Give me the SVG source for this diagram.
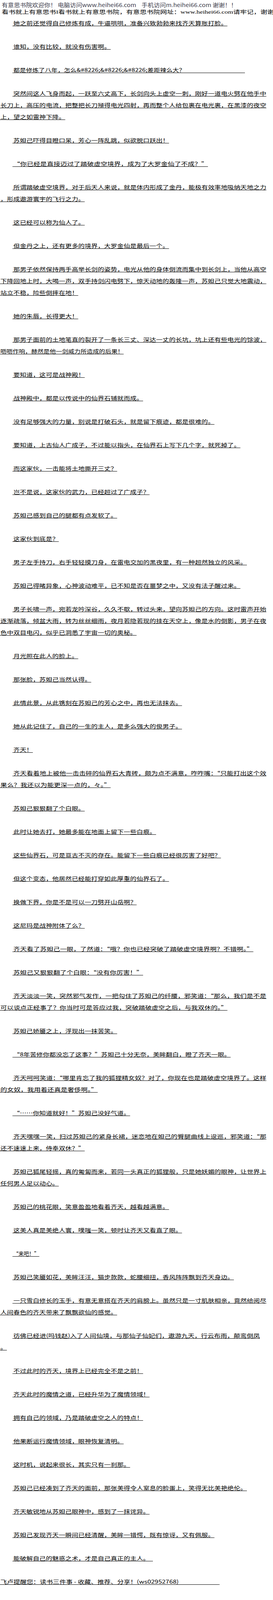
<svg xmlns="http://www.w3.org/2000/svg" width="700" height="4377" viewBox="0 0 700 4377">
<style>
.b{font-family:"Noto Sans CJK SC","Liberation Serif",sans-serif;font-size:13px;fill:#000}
.h1{font-family:"Noto Sans CJK SC","Liberation Sans",sans-serif;font-size:13.5px;fill:#3a3a4a}
.h2{font-family:"Liberation Serif","Noto Sans CJK SC",serif;font-size:13px;fill:#000}
.ft{font-family:"Noto Sans CJK SC","Liberation Sans",sans-serif;font-size:13.5px;fill:#1e2a66}
.ul{stroke:#000;stroke-width:1;fill:none}
</style>
<rect width="700" height="4377" fill="#fff"/>
<g id="header">
<text class="h1" x="4.5" y="18" textLength="603" lengthAdjust="spacingAndGlyphs" xml:space="preserve">有意思书院欢迎你！ 电脑访问www.heihei66.com    手机访问m.heihei66.com 谢谢！！</text>
<text class="h2" x="4.5" y="35" textLength="698" lengthAdjust="spacingAndGlyphs">看书就上有意思书I看书就上有意思书院，有意思书院网址：www.heihei66.com请牢记，谢谢</text>
</g>
<g id="body">
<text class="b" x="34.3" y="64" textLength="548.8" lengthAdjust="spacingAndGlyphs">她之前还觉得自己修炼有成，牛逼哄哄，准备兴致勃勃来找齐天算账打脸。</text>
<text class="b" x="34.3" y="124" textLength="249.5" lengthAdjust="spacingAndGlyphs">谁知，没有比较，就没有伤害啊。</text>
<text class="b" x="34.3" y="184" textLength="440.7" lengthAdjust="spacingAndGlyphs">都是修炼了八年，怎么&amp;#8226;&amp;#8226;&amp;#8226;差距辣么大？</text>
<text class="b" x="34.3" y="244" textLength="648.6" lengthAdjust="spacingAndGlyphs">突然间这人飞身而起，一跃至六丈高下，长剑向头上虚空一刺，刚好一道电火劈在他手中</text>
<text class="b" x="1" y="274" textLength="681.8" lengthAdjust="spacingAndGlyphs">长刀上，高压的电流，把整把长刀殛得电光四射，再而整个人给包裹在电光裹，在黑漆的夜空</text>
<text class="b" x="1" y="304" textLength="166.3" lengthAdjust="spacingAndGlyphs">上，望之如雷神下降。</text>
<text class="b" x="34.3" y="364" textLength="399.1" lengthAdjust="spacingAndGlyphs">苏妲己吓得目瞪口呆，芳心一阵乱跳，似欲脱口跃出！</text>
<text class="b" x="34.3" y="424" textLength="498.9" lengthAdjust="spacingAndGlyphs">“你已经是直接迈过了踏破虚空境界，成为了大罗金仙了不成？”</text>
<text class="b" x="34.3" y="484" textLength="648.6" lengthAdjust="spacingAndGlyphs">所谓踏破虚空境界，对于后天人来说，就是体内形成了金丹，能极有效率地吸纳天地之力</text>
<text class="b" x="1" y="514" textLength="216.2" lengthAdjust="spacingAndGlyphs">，形成遨游寰宇的飞行之力。</text>
<text class="b" x="34.3" y="574" textLength="182.9" lengthAdjust="spacingAndGlyphs">这已经可以称为仙人了。</text>
<text class="b" x="34.3" y="634" textLength="399.1" lengthAdjust="spacingAndGlyphs">但金丹之上，还有更多的境界，大罗金仙是最后一个。</text>
<text class="b" x="34.3" y="694" textLength="648.6" lengthAdjust="spacingAndGlyphs">那男子依然保持两手高举长剑的姿势，电光从他的身体倒流而集中到长剑上，当他从高空</text>
<text class="b" x="1" y="724" textLength="681.8" lengthAdjust="spacingAndGlyphs">下降回地上时，大喝一声，双手持剑闪电劈下，惊天动地的轰隆一声，苏妲己只觉大地震动，</text>
<text class="b" x="1" y="754" textLength="199.6" lengthAdjust="spacingAndGlyphs">站立不稳，险些倒摔在地！</text>
<text class="b" x="34.3" y="814" textLength="166.3" lengthAdjust="spacingAndGlyphs">她的朱唇，长得更大！</text>
<text class="b" x="34.3" y="874" textLength="648.6" lengthAdjust="spacingAndGlyphs">那男子面前的土地笔直的裂开了一条长三丈、深达一丈的长坑，坑上还有些电光的馀波，</text>
<text class="b" x="1" y="904" textLength="316" lengthAdjust="spacingAndGlyphs">呖呖作响，赫然是他一剑威力所造成的后果！</text>
<text class="b" x="34.3" y="964" textLength="182.9" lengthAdjust="spacingAndGlyphs">要知道，这可是战神殿！</text>
<text class="b" x="34.3" y="1024" textLength="332.6" lengthAdjust="spacingAndGlyphs">战神殿中，都是以传说中的仙界石铺就而成。</text>
<text class="b" x="34.3" y="1084" textLength="515.5" lengthAdjust="spacingAndGlyphs">没有足够强大的力量，别说是打破石头，就是留下痕迹，都是很难的。</text>
<text class="b" x="34.3" y="1144" textLength="582.1" lengthAdjust="spacingAndGlyphs">要知道，上古仙人广成子，不过能以指头，在仙界石上写下几个字，就死掉了。</text>
<text class="b" x="34.3" y="1204" textLength="266.1" lengthAdjust="spacingAndGlyphs">而这家伙，一击能将土地撕开三丈？</text>
<text class="b" x="34.3" y="1264" textLength="349.2" lengthAdjust="spacingAndGlyphs">岂不是说，这家伙的武力，已经超过了广成子？</text>
<text class="b" x="34.3" y="1324" textLength="266.1" lengthAdjust="spacingAndGlyphs">苏妲己感到自己的腿都有点发软了。</text>
<text class="b" x="34.3" y="1384" textLength="116.4" lengthAdjust="spacingAndGlyphs">这家伙到底是？</text>
<text class="b" x="34.3" y="1444" textLength="598.7" lengthAdjust="spacingAndGlyphs">男子左手持刀，右手轻轻摸刀身，在雷电交加的黑夜里，有一种超然独立的风采。</text>
<text class="b" x="34.3" y="1504" textLength="582.1" lengthAdjust="spacingAndGlyphs">苏妲己得睹异象，心神波动难平，已不知是否在噩梦之中，又没有法子醒过来。</text>
<text class="b" x="34.3" y="1564" textLength="648.6" lengthAdjust="spacingAndGlyphs">男子长啸一声，宛若龙吟深谷，久久不歇，转过头来，望向苏妲己的方向。这时雷声开始</text>
<text class="b" x="1" y="1594" textLength="681.8" lengthAdjust="spacingAndGlyphs">逐渐疏落，倾盆大雨，转为丝丝细雨，夜月若隐若现的挂在天空上，像是水的倒影，男子在夜</text>
<text class="b" x="1" y="1624" textLength="349.2" lengthAdjust="spacingAndGlyphs">色中双目电闪，似乎已洞悉了宇宙一切的奥秘。</text>
<text class="b" x="34.3" y="1684" textLength="166.3" lengthAdjust="spacingAndGlyphs">月光照在此人的脸上。</text>
<text class="b" x="34.3" y="1744" textLength="199.6" lengthAdjust="spacingAndGlyphs">那张脸，苏妲己当然认得。</text>
<text class="b" x="34.3" y="1804" textLength="432.4" lengthAdjust="spacingAndGlyphs">此情此景，从此镌刻在苏妲己的芳心之中，再也无法抹去。</text>
<text class="b" x="34.3" y="1864" textLength="432.4" lengthAdjust="spacingAndGlyphs">她从此记住了，自己的一生的主人，是多么强大的俊男子。</text>
<text class="b" x="34.3" y="1924" textLength="49.9" lengthAdjust="spacingAndGlyphs">齐天！</text>
<text class="b" x="34.3" y="1984" textLength="648.6" lengthAdjust="spacingAndGlyphs">齐天看着地上被他一击击碎的仙界石大青砖，颇为点不满意，咋咋嘴：“只能打出这个效</text>
<text class="b" x="1" y="2014" textLength="282.7" lengthAdjust="spacingAndGlyphs">果么？我还以为能更深一点的，々。”</text>
<text class="b" x="34.3" y="2074" textLength="182.9" lengthAdjust="spacingAndGlyphs">苏妲己狠狠翻了个白眼。</text>
<text class="b" x="34.3" y="2134" textLength="365.9" lengthAdjust="spacingAndGlyphs">此时让她去打，她最多能在地面上留下一些白痕。</text>
<text class="b" x="34.3" y="2194" textLength="532.2" lengthAdjust="spacingAndGlyphs">这些仙界石，可是亘古不灭的存在。能留下一些白痕已经很厉害了好吧？</text>
<text class="b" x="34.3" y="2254" textLength="399.1" lengthAdjust="spacingAndGlyphs">但这个变态，他居然已经能打穿如此厚重的仙界石了。</text>
<text class="b" x="34.3" y="2314" textLength="316" lengthAdjust="spacingAndGlyphs">换做下界，你是不是可以一刀劈开山岳啊？</text>
<text class="b" x="34.3" y="2374" textLength="182.9" lengthAdjust="spacingAndGlyphs">这尼玛是战神附体了么？</text>
<text class="b" x="34.3" y="2434" textLength="615.3" lengthAdjust="spacingAndGlyphs">齐天看了苏妲己一眼，了然道：“哦？你也已经突破了踏破虚空境界啊？不错啊。”</text>
<text class="b" x="34.3" y="2494" textLength="332.6" lengthAdjust="spacingAndGlyphs">苏妲己又狠狠翻了个白眼：“没有你厉害！”</text>
<text class="b" x="34.3" y="2554" textLength="648.6" lengthAdjust="spacingAndGlyphs">齐天淡淡一笑，突然邪气发作，一把勾住了苏妲己的纤腰，邪笑道：“那么，我们是不是</text>
<text class="b" x="1" y="2584" textLength="582.1" lengthAdjust="spacingAndGlyphs">可以谈点正经事了？你当时可是答应过我，突破踏破虚空之后，与我双休的。”</text>
<text class="b" x="34.3" y="2644" textLength="266.1" lengthAdjust="spacingAndGlyphs">苏妲己娇靥之上，浮现出一抹苦笑。</text>
<text class="b" x="34.3" y="2704" textLength="557.1" lengthAdjust="spacingAndGlyphs">“8年苦修你都没忘了这事？”苏妲己十分无奈，美眸翻白，瞪了齐天一眼。</text>
<text class="b" x="34.3" y="2764" textLength="648.6" lengthAdjust="spacingAndGlyphs">齐天呵呵笑道：“哪里肯忘了我的狐狸精女奴？对了，你现在也是踏破虚空境界了。这样</text>
<text class="b" x="1" y="2794" textLength="249.5" lengthAdjust="spacingAndGlyphs">的女奴，我用着还真是奢侈啊。”</text>
<text class="b" x="34.3" y="2854" textLength="299.3" lengthAdjust="spacingAndGlyphs">“……你知道就好！”苏妲己没好气道。</text>
<text class="b" x="34.3" y="2914" textLength="648.6" lengthAdjust="spacingAndGlyphs">齐天嘿嘿一笑，扫过苏妲己的紧身长裙，迷恋地在妲己的臀腿曲线上逡巡，邪笑道：“那</text>
<text class="b" x="1" y="2944" textLength="216.2" lengthAdjust="spacingAndGlyphs">还不速速上来，侍奉双休？”</text>
<text class="b" x="34.3" y="3004" textLength="648.6" lengthAdjust="spacingAndGlyphs">苏妲己狐尾轻摇，真的匍匐而来，若同一头真正的狐狸般，只是她妖媚的眼神，让世界上</text>
<text class="b" x="1" y="3034" textLength="149.7" lengthAdjust="spacingAndGlyphs">任何男人足以动心。</text>
<text class="b" x="34.3" y="3094" textLength="399.1" lengthAdjust="spacingAndGlyphs">苏妲己的桃花眼，笑意盈盈地看着齐天，越看越满意。</text>
<text class="b" x="34.3" y="3154" textLength="432.4" lengthAdjust="spacingAndGlyphs">这美人真是美绝人寰，噗嗤一笑，顿时让齐天又看直了眼。</text>
<text class="b" x="34.3" y="3214" textLength="66.5" lengthAdjust="spacingAndGlyphs">“来吧！”</text>
<text class="b" x="34.3" y="3274" textLength="565.4" lengthAdjust="spacingAndGlyphs">苏妲己笑靥如花，美眸汪汪，猫步款款，蛇腰细扭，香风阵阵飘到齐天身边。</text>
<text class="b" x="34.3" y="3334" textLength="648.6" lengthAdjust="spacingAndGlyphs">一只雪白修长的玉手，有意无意搭在齐天的肩膀上。虽然只是一寸肌肤相亲，竟然给阅尽</text>
<text class="b" x="1" y="3364" textLength="299.3" lengthAdjust="spacingAndGlyphs">人间春色的齐天带来了飘飘欲仙的感觉。</text>
<text class="b" x="34.3" y="3424" textLength="631.9" lengthAdjust="spacingAndGlyphs">彷佛已经进(吗钱赵)入了人间仙境，与那仙子仙妃们，遨游九天，行云布雨，颠鸾倒凤</text>
<text class="b" x="1" y="3454" textLength="16.6" lengthAdjust="spacingAndGlyphs">。</text>
<text class="b" x="34.3" y="3514" textLength="332.6" lengthAdjust="spacingAndGlyphs">不过此时的齐天，境界上已经完全不是之前！</text>
<text class="b" x="34.3" y="3574" textLength="349.2" lengthAdjust="spacingAndGlyphs">齐天此时的魔情之道，已经升华为了魔情领域！</text>
<text class="b" x="34.3" y="3634" textLength="332.6" lengthAdjust="spacingAndGlyphs">拥有自己的领域，乃是踏破虚空之人的特点！</text>
<text class="b" x="34.3" y="3694" textLength="282.7" lengthAdjust="spacingAndGlyphs">他果断运行魔情领域，眼神恢复清明。</text>
<text class="b" x="34.3" y="3754" textLength="299.3" lengthAdjust="spacingAndGlyphs">这时机，说起来很长，其实只有一刹那。</text>
<text class="b" x="34.3" y="3814" textLength="598.7" lengthAdjust="spacingAndGlyphs">苏妲己已经凑到了齐天的面前，那张美得令人窒息的脸蛋上，笑得无比美艳绝伦。</text>
<text class="b" x="34.3" y="3874" textLength="349.2" lengthAdjust="spacingAndGlyphs">齐天敏锐地从苏妲己眼神中，感到了一抹诧异。</text>
<text class="b" x="34.3" y="3934" textLength="515.5" lengthAdjust="spacingAndGlyphs">苏妲己发现齐天一瞬间已经清醒，美眸一错愕，既有惊讶，又有佩服。</text>
<text class="b" x="34.3" y="3994" textLength="349.2" lengthAdjust="spacingAndGlyphs">能破解自己的魅惑之术，才是自己真正的主人。</text>
<text class="b" x="1" y="4054" textLength="457.3" lengthAdjust="spacingAndGlyphs">飞卢提醒您：读书三件事 - 收藏、推荐、分享！(ws02952768)</text>
<text class="b" x="1" y="4114" textLength="498.9" lengthAdjust="spacingAndGlyphs">支持飞卢小说网(http://b.faloo.com)原创作品，尽享阅读的喜悦！</text>
</g>
<g id="underlines">
<path class="ul" d="M32 66.5H583.1M32 126.5H283.8M32 186.5H628M32 246.5H682.9M0 276.5H682.8M0 306.5H167.3M32 366.5H433.4M32 426.5H533.2M32 486.5H682.9M0 516.5H217.2M32 576.5H217.2M32 636.5H433.4M32 696.5H682.9M0 726.5H682.8M0 756.5H200.6M32 816.5H200.6M32 876.5H682.9M0 906.5H317M32 966.5H217.2M32 1026.5H366.9M32 1086.5H549.8M32 1146.5H616.4M32 1206.5H300.4M32 1266.5H383.5M32 1326.5H300.4M32 1386.5H150.7M32 1446.5H633M32 1506.5H616.4M32 1566.5H682.9M0 1596.5H682.8M0 1626.5H350.2M32 1686.5H200.6M32 1746.5H233.9M32 1806.5H466.7M32 1866.5H466.7M32 1926.5H84.2M32 1986.5H682.9M0 2016.5H283.7M32 2076.5H217.2M32 2136.5H400.2M32 2196.5H566.5M32 2256.5H433.4M32 2316.5H350.3M32 2376.5H217.2M32 2436.5H649.6M32 2496.5H366.9M32 2556.5H682.9M0 2586.5H583.1M32 2646.5H300.4M32 2706.5H591.4M32 2766.5H682.9M0 2796.5H250.5M32 2856.5H333.6M32 2916.5H682.9M0 2946.5H217.2M32 3006.5H682.9M0 3036.5H150.7M32 3096.5H433.4M32 3156.5H466.7M32 3216.5H100.8M32 3276.5H599.7M32 3336.5H682.9M0 3366.5H300.3M32 3426.5H666.2M0 3456.5H17.6M32 3516.5H366.9M32 3576.5H383.5M32 3636.5H366.9M32 3696.5H317M32 3756.5H333.6M32 3816.5H633M32 3876.5H383.5M32 3936.5H549.8M32 3996.5H392M0 4056.5H563M0 4116.5H644"/>
</g>
<g id="footer">
<text class="h2" x="4.5" y="4173" textLength="698" lengthAdjust="spacingAndGlyphs">看书就上有意思书I看书就上有意思书院，有意思书院网址：www.heihei66.com请牢记，谢谢</text>
<text class="ft" x="54" y="4235" textLength="421" lengthAdjust="spacingAndGlyphs" xml:space="preserve">有意思书院 更新速度快 小说资源多 一切只为书友提供免费平台</text>
</g>
</svg>
